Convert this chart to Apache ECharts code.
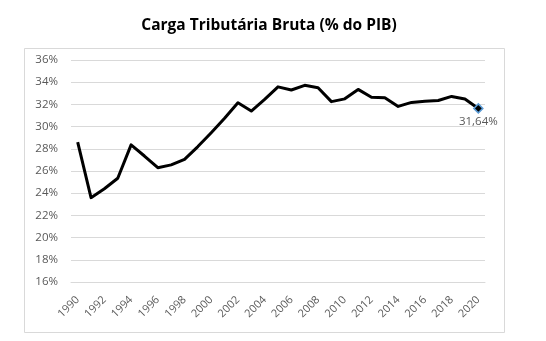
<!DOCTYPE html>
<html>
<head>
<meta charset="utf-8">
<script src="https://cdn.jsdelivr.net/npm/echarts@6/dist/echarts.min.js"></script>
<style>
  html, body { margin: 0; padding: 0; background: #fff; }
  #chart { width: 546px; height: 341px; }
</style>
</head>
<body>
<div id="chart"></div>
<script>
// Years 1990–2020
const years = ['1990','1991','1992','1993','1994','1995','1996','1997','1998','1999',
  '2000','2001','2002','2003','2004','2005','2006','2007','2008','2009',
  '2010','2011','2012','2013','2014','2015','2016','2017','2018','2019','2020'];

// Gross tax burden, % of GDP
const carga = [28.6, 23.6, 24.4, 25.35, 28.35, 27.35, 26.3, 26.55, 27.05, 28.2,
  29.45, 30.75, 32.15, 31.4, 32.45, 33.58, 33.3, 33.72, 33.5, 32.25,
  32.5, 33.35, 32.65, 32.6, 31.82, 32.18, 32.28, 32.35, 32.72, 32.48, 31.64];

// Y axis range, percent
const yMin = 16, yMax = 36, yStep = 2;

const chart = echarts.init(document.getElementById('chart'), null, { renderer: 'canvas' });

const lastIdx = carga.length - 1;
const seriesData = carga.map((v, i) => i === lastIdx ? {
  value: v,
  symbol: 'diamond',
  symbolSize: 9,
  itemStyle: { color: '#000', borderColor: '#5b9bd5', borderWidth: 1.5 },
  label: {
    show: true,
    position: 'bottom',
    distance: 2,
    color: '#595959',
    fontFamily: 'Open Sans',
    fontSize: 11.5,
    formatter: p => p.value.toFixed(2).replace('.', ',') + '%'
  }
} : v);

chart.setOption({
  animation: false,
  backgroundColor: '#fff',
  title: {
    text: 'Carga Tributária Bruta (% do PIB)',
    left: 264,
    textAlign: 'center',
    top: 13,
    textStyle: { fontFamily: 'Open Sans', fontWeight: 'bold', fontSize: 15.5, color: '#000' }
  },
  graphic: [{
    type: 'rect',
    shape: { x: 24.5, y: 48.5, width: 480, height: 284 },
    style: { fill: 'none', stroke: '#d9d9d9', lineWidth: 1 },
    silent: true,
    z: -1
  }],
  grid: { left: 71, right: 61, top: 60, bottom: 59 },
  xAxis: {
    type: 'category',
    data: years,
    boundaryGap: true,
    axisLine: { show: true, lineStyle: { color: '#d9d9d9', width: 1 } },
    axisTick: { show: false },
    axisLabel: {
      interval: 1,
      rotate: 45,
      margin: 16,
      color: '#595959',
      fontFamily: 'Open Sans',
      fontSize: 11
    }
  },
  yAxis: {
    type: 'value',
    min: yMin,
    max: yMax,
    interval: yStep,
    axisLine: { show: false },
    axisTick: { show: false },
    splitLine: { lineStyle: { color: '#d9d9d9', width: 1 } },
    axisLabel: {
      margin: 13,
      color: '#595959',
      fontFamily: 'Open Sans',
      fontSize: 11.5,
      formatter: v => v + '%'
    }
  },
  series: [{
    type: 'line',
    data: seriesData,
    symbol: 'none',
    showSymbol: true,
    lineStyle: { color: '#000', width: 3, join: 'round' },
    itemStyle: { color: '#000' },
    z: 3
  }]
});
</script>
</body>
</html>
